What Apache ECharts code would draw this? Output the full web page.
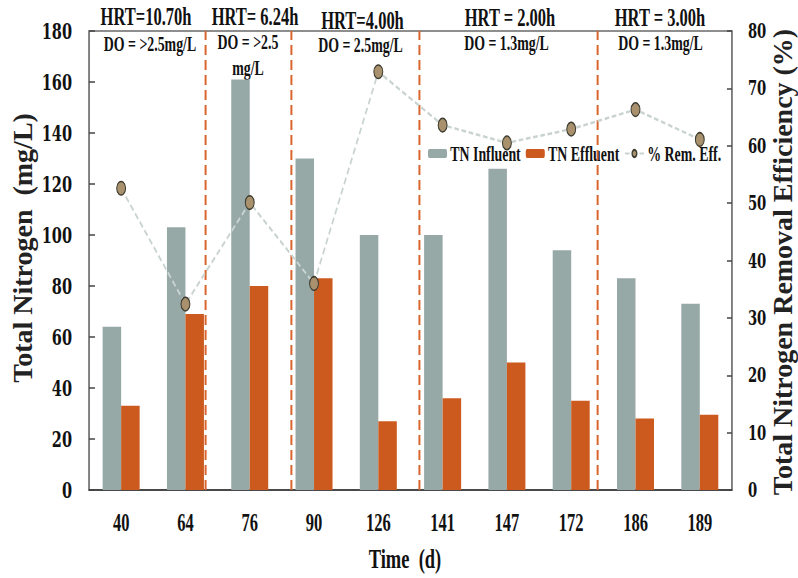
<!DOCTYPE html>
<html>
<head>
<meta charset="utf-8">
<script src="https://cdn.jsdelivr.net/npm/echarts@6/dist/echarts.min.js"></script>
<style>
  html, body { margin: 0; padding: 0; overflow: hidden; background: #fff; }
  #frame { width: 798px; height: 578px; overflow: hidden; position: relative; }
  #chart { height: 578px; transform-origin: 0 0; }
</style>
</head>
<body>
<div id="frame"><div id="chart"></div></div>
<script>
// Sampling days and measured total nitrogen (mg/L)
const days = ['40', '64', '76', '90', '126', '141', '147', '172', '186', '189'];
const tnInfluent = [64, 103, 161, 130, 100, 100, 126, 94, 83, 73];
const tnEffluent = [33, 69, 80, 83, 27, 36, 50, 35, 28, 29.5];
// TN removal efficiency (%)
const remEff = [52.6, 32.4, 50.1, 36.0, 72.9, 63.6, 60.5, 62.9, 66.3, 61.1];

// Operating phases: boundaries in category units (0..10), HRT and DO per phase
const phaseBreaks = [1.815, 3.152, 5.137, 7.910];
const hrtLabels = ['HRT=10.70h', 'HRT= 6.24h', 'HRT=4.00h', 'HRT = 2.00h', 'HRT = 3.00h'];
const doLabels = ['DO = >2.5mg/L', 'DO = >2.5\nmg/L', 'DO = 2.5mg/L', 'DO = 1.3mg/L', 'DO = 1.3mg/L'];

// Axis ranges
const tnMax = 180, tnStep = 20;
const effMax = 80, effStep = 10;

// The drawing is laid out wide and compressed horizontally for a condensed look
const K = 0.66;
const W = Math.round(798 / K);
const sx = v => v / K;
document.getElementById('chart').style.width = W + 'px';
document.getElementById('chart').style.transform = 'scaleX(' + K + ')';

const serif = '"Liberation Serif", "Times New Roman", serif';
const wideSerif = '"DejaVu Serif", "Liberation Serif", serif';
const ink = '#111';
const axisGray = '#6a6a6a';

// Annotation placement (screen px) for phase headers; a DO label may span two lines
const hrtPos = [[146, 17], [255, 16.5], [362.5, 20.5], [510, 17.5], [660, 17.5]];
const doPos = [[150, 44], [248, 41.5], [360.5, 45], [506.5, 43], [660.5, 43]];
const doLineStep = 26.5;

const graphic = [];
hrtLabels.forEach((t, i) => graphic.push({
  type: 'text', x: sx(hrtPos[i][0]), y: hrtPos[i][1], silent: true,
  style: { text: t, fontFamily: serif, fontWeight: 'bold', fontSize: 25, lineHeight: 25,
           fill: ink, align: 'center', verticalAlign: 'middle' }
}));
doLabels.forEach((t, i) => t.split('\n').forEach((line, j) => graphic.push({
  type: 'text', x: sx(doPos[i][0]), y: doPos[i][1] + j * doLineStep, silent: true,
  style: { text: line, fontFamily: serif, fontWeight: 'bold', fontSize: 21, lineHeight: 21,
           fill: ink, align: 'center', verticalAlign: 'middle' }
})));
// Axis titles (rotated ones are counter-scaled so their glyph height stays natural)
graphic.push({
  type: 'text', x: sx(23), y: 248, rotation: Math.PI / 2, scaleY: 1 / K, silent: true,
  style: { text: 'Total Nitrogen  (mg/L)', fontFamily: serif, fontWeight: 'bold', fontSize: 28,
           lineHeight: 28, fill: '#222', align: 'center', verticalAlign: 'middle' }
});
graphic.push({
  type: 'text', x: sx(783), y: 262, rotation: Math.PI / 2, scaleY: 1 / K, silent: true,
  style: { text: 'Total Nitrogen Removal Efficiency (%)', fontFamily: serif, fontWeight: 'bold',
           fontSize: 28, lineHeight: 28, fill: '#222', align: 'center', verticalAlign: 'middle' }
});
graphic.push({
  type: 'text', x: sx(405), y: 559, silent: true,
  style: { text: 'Time  (d)', fontFamily: serif, fontWeight: 'bold', fontSize: 28, lineHeight: 28,
           fill: ink, align: 'center', verticalAlign: 'middle' }
});

const chart = echarts.init(document.getElementById('chart'), null, { renderer: 'svg', width: W, height: 578 });

chart.setOption({
  animation: false,
  backgroundColor: '#fff',
  grid: {
    left: sx(89), right: sx(66), top: 31, bottom: 88,
    show: true, borderColor: axisGray, borderWidth: 1.5, backgroundColor: 'transparent'
  },
  legend: {
    data: ['TN Influent', 'TN Effluent', '% Rem. Eff.'],
    left: sx(428), top: 143, padding: 0,
    itemWidth: sx(19), itemHeight: 9, itemGap: sx(5),
    textStyle: { fontFamily: serif, fontWeight: 'bold', fontSize: 21, color: ink }
  },
  xAxis: [
    {
      type: 'category', data: days,
      axisLine: { lineStyle: { color: '#333', width: 1.5 } },
      axisTick: { inside: true, length: 7, lineStyle: { color: '#222', width: 1.5 } },
      axisLabel: { margin: 20, fontFamily: serif, fontWeight: 'bold', fontSize: 25, color: ink },
      splitLine: { show: false }
    },
    { type: 'value', min: 0, max: 10, show: false }
  ],
  yAxis: [
    {
      type: 'value', min: 0, max: tnMax, interval: tnStep,
      axisLine: { show: true, lineStyle: { color: axisGray, width: 2 } },
      axisTick: { show: true, inside: true, length: sx(6), lineStyle: { color: '#444', width: 1.5 } },
      axisLabel: { margin: sx(17), fontFamily: wideSerif, fontWeight: 'bold', fontSize: 22, color: ink },
      splitLine: { show: false }
    },
    {
      type: 'value', min: 0, max: effMax, interval: effStep, position: 'right',
      axisLine: { show: true, lineStyle: { color: axisGray, width: 2 } },
      axisTick: { show: true, inside: true, length: sx(5), lineStyle: { color: '#444', width: 1.5 } },
      axisLabel: { margin: sx(16), fontFamily: wideSerif, fontWeight: 'bold', fontSize: 20, color: ink },
      splitLine: { show: false }
    }
  ],
  series: [
    {
      name: 'TN Influent', type: 'bar', data: tnInfluent,
      barWidth: sx(18.5), barGap: '0%',
      itemStyle: { color: '#97A9A7' }
    },
    {
      name: 'TN Effluent', type: 'bar', data: tnEffluent,
      barWidth: sx(18.5),
      itemStyle: { color: '#CC5A1F' }
    },
    {
      type: 'line', xAxisIndex: 1, yAxisIndex: 0, data: [], silent: true,
      markLine: {
        silent: true, symbol: ['none', 'none'], label: { show: false },
        lineStyle: { color: '#D9652E', width: 3, type: [10, 5] },
        data: phaseBreaks.map(v => ({ xAxis: v }))
      }
    },
    {
      name: '% Rem. Eff.', type: 'line', yAxisIndex: 1, data: remEff,
      symbol: 'circle', symbolSize: 13.5,
      lineStyle: { color: '#C9D3D0', width: 2.5, type: [7, 4] },
      itemStyle: { color: '#A8916C', borderColor: '#3b3a30', borderWidth: 1.5 },
      z: 5
    }
  ],
  graphic: graphic
});
</script>
</body>
</html>
